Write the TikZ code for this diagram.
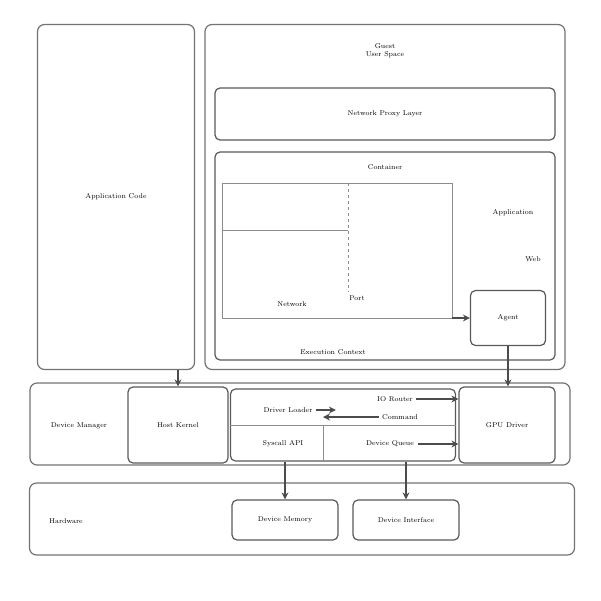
\documentclass[tikz,border=0pt]{standalone}
\usetikzlibrary{arrows.meta,positioning}
\begin{document}
\begin{tikzpicture}[x=1pt,y=-1pt,font=\scriptsize,
  layer/.style={draw=black!55,rounded corners=7pt,line width=1.2pt},
  unit/.style={draw=black!65,rounded corners=5pt,line width=1.2pt,align=center},
  part/.style={draw=black!45,line width=0.8pt},
  link/.style={-{Stealth[length=7pt,width=7pt]},line width=1.8pt,black!70}]
\useasboundingbox (0,0) rectangle (601,600);
\node[layer,minimum width=157pt,minimum height=345pt] (app) at (116,197) {Application Code};
\node[layer,minimum width=360pt,minimum height=345pt] (guest) at (385,197) {};
\node[align=center] (guesttitle) at (385,51) {Guest\\User Space};
\node[unit,minimum width=340pt,minimum height=52pt] (proxy) at (385,114) {Network Proxy Layer};
\node[unit,minimum width=340pt,minimum height=208pt] (ctr) at (385,256) {};
\node (ctrtitle) at (385,167) {Container};
\node[part,minimum width=230pt,minimum height=135pt] (pod) at (337,251) {};
\coordinate (podsplit) at (348,183);
\draw[part,dashed] (podsplit) -- (podsplit |- 0,292);
\draw[part] (pod.west |- 0,230) -- (podsplit |- 0,230);
\node (podnet) at (292,304) {Network};
\node (podport) at (357,298) {Port};
\node (ctrapp) at (513,213) {Application};
\node (ctrweb) at (533,259) {Web};
\node[unit,minimum width=75pt,minimum height=55pt] (agent) at (508,318) {Agent};
\node (ctrctx) at (333,352) {Execution Context};
\node[layer,minimum width=540pt,minimum height=82pt] (kernel) at (300,424) {};
\node (kerneltitle) at (79,426) {Device Manager};
\node[unit,minimum width=100pt,minimum height=76pt] (host) at (178,425) {Host Kernel};
\node[unit,minimum width=225pt,minimum height=72pt] (bus) at (343,425) {};
\draw[part] (bus.west) -- (bus.east);
\coordinate (cellsplit) at (323,425);
\draw[part] (cellsplit) -- (cellsplit |- bus.south);
\node (loader) at (288,410) {Driver Loader};
\node (iorouter) at (395,399) {IO Router};
\node (cmdq) at (400,417) {Command};
\node (syscall) at (283,444) {Syscall API};
\node (devq) at (390,444) {Device Queue};
\node[unit,minimum width=96pt,minimum height=76pt] (gpu) at (507,425) {GPU Driver};
\node[layer,minimum width=545pt,minimum height=72pt] (hw) at (302,519) {};
\node (hwtitle) at (66,521) {Hardware};
\node[unit,minimum width=106pt,minimum height=40pt] (mem) at (285,520) {Device Memory};
\node[unit,minimum width=106pt,minimum height=40pt] (iface) at (406,520) {Device Interface};
\draw[link] (app.south -| host.north) -- (host.north);
\draw[link] (agent.south) -- (agent.south |- gpu.north);
\draw[link] (pod.east |- agent.west) -- (agent.west);
\draw[link] (loader.east) -- ++(20,0);
\draw[link] (cmdq.west) -- (cmdq.west -| cellsplit);
\draw[link] (iorouter.east) -- (gpu.west |- iorouter);
\draw[link] (devq.east) -- (gpu.west |- devq);
\draw[link] (bus.south -| mem.north) -- (mem.north);
\draw[link] (bus.south -| iface.north) -- (iface.north);
\end{tikzpicture}
\end{document}
